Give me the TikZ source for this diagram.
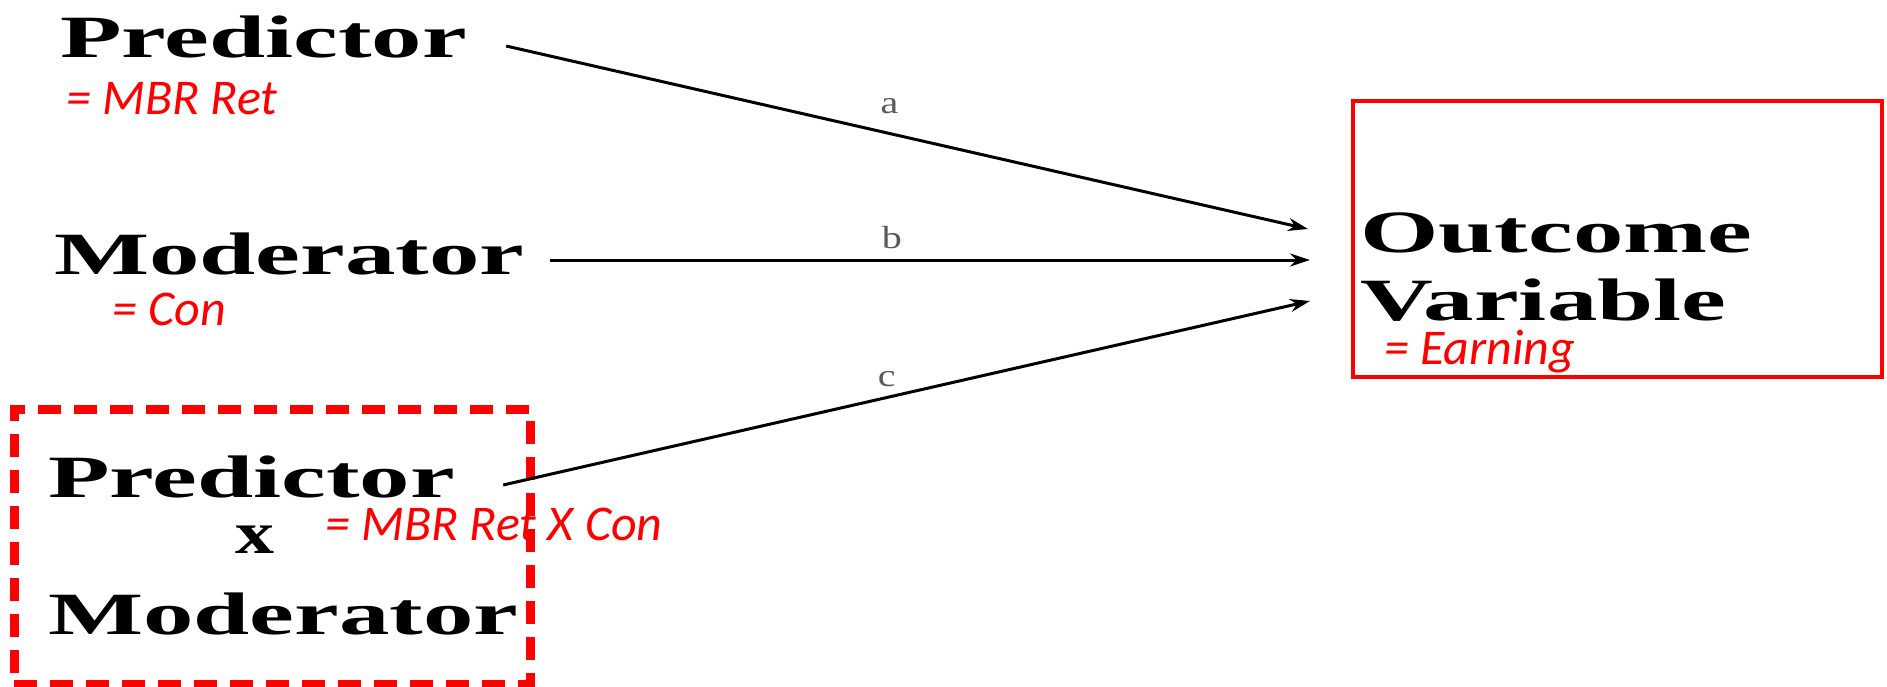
\documentclass[tikz,border=0pt]{standalone}
\usepackage{fontspec}
\setmainfont{Liberation Serif}
\newfontfamily\redfont{Carlito}
\usetikzlibrary{arrows.meta}
\newcommand\wtxt[1]{\scalebox{1.68}[1]{#1}}
\tikzset{
  blk/.style={font=\bfseries\fontsize{60}{66}\selectfont, inner sep=0pt, anchor=base west},
  redtxt/.style={text=red, font=\redfont\itshape\fontsize{50}{55}\selectfont, inner sep=0pt, anchor=base west},
  lbl/.style={text=black!65, font=\fontsize{32}{34}\selectfont, inner sep=0pt},
  arr/.style={line width=3pt, -{Stealth[length=20pt,width=13pt]}},
  outbox/.style={draw=red, line width=4.5pt, minimum width=529pt, minimum height=276pt, inner sep=0pt},
  intbox/.style={draw=red, line width=9pt, dash pattern=on 23pt off 13pt, minimum width=516pt, minimum height=275pt, inner sep=0pt}
}
\begin{document}
\begin{tikzpicture}[x=1pt,y=-1pt]
\useasboundingbox (0,0) rectangle (1887,687);
% left column
\node[blk] (p1) at (60,58) {\wtxt{Predictor}};
\node[redtxt] (r1) at (66,115) {= MBR Ret};
\node[blk] (m1) at (54,274) {\wtxt{Moderator}};
\node[redtxt] (r2) at (112,325) {= Con};
% interaction box
\node[intbox] (ib) at (272,546.5) {};
\node[blk] (p2) at (48,497) {\wtxt{Predictor}};
\node[blk, anchor=base] (xx) at (255,553) {\scalebox{1.3}[1]{x}};
\node[blk] (m2) at (48,634) {\wtxt{Moderator}};
\node[redtxt] (r3) at (325,540) {= MBR Ret X Con};
% outcome
\node[outbox] (ob) at (1617.5,239) {};
\node[blk] (o1) at (1360,252) {\wtxt{Outcome}};
\node[blk] (o2) at (1360,320) {\wtxt{Variable}};
\node[redtxt] (r4) at (1384,364) {= Earning};
% arrow ends
\coordinate (ea) at (1308,229);
\coordinate (eb) at (1310,260);
\coordinate (ec) at (1310,301);
% arrows
\draw[arr] ([xshift=39pt,yshift=12pt]p1.base east) -- (ea)
  node[lbl, pos=0.478, yshift=27pt] {\scalebox{1.25}[1]{a}};
\draw[arr] ([xshift=25pt,yshift=14pt]m1.base east) -- (eb)
  node[lbl, pos=0.45, yshift=22pt] {\scalebox{1.25}[1]{b}};
\draw[arr] ([xshift=48pt,yshift=12pt]p2.base east) -- (ec)
  node[lbl, pos=0.4755, yshift=18pt] {\scalebox{1.25}[1]{c}};
\end{tikzpicture}
\end{document}
